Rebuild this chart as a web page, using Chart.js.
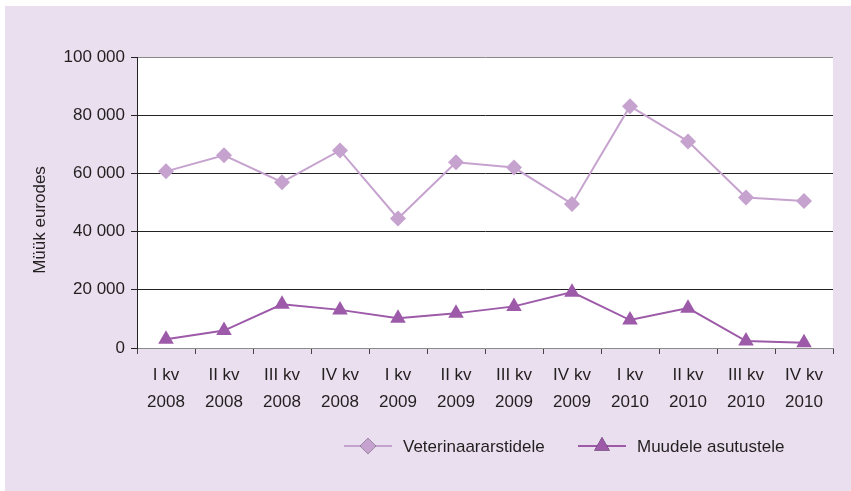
<!DOCTYPE html>
<html>
<head>
<meta charset="utf-8">
<script src="https://cdn.jsdelivr.net/npm/chart.js@4"></script>
<style>
  html, body { margin: 0; background: #fff; overflow: hidden; }
  #wrap { position: absolute; left: 5px; top: 6px; width: 846px; height: 485px; background: #e9dfee; }
  #chart { display: block; }
</style>
</head>
<body>
<div id="wrap"><canvas id="chart" width="846" height="485"></canvas></div>
<script>
// Categories (quarters)
const quarters = [
    ['I kv', '2008'], ['II kv', '2008'], ['III kv', '2008'], ['IV kv', '2008'],
    ['I kv', '2009'], ['II kv', '2009'], ['III kv', '2009'], ['IV kv', '2009'],
    ['I kv', '2010'], ['II kv', '2010'], ['III kv', '2010'], ['IV kv', '2010']
];

// Sales in euros
const vetValues = [60700, 66200, 57000, 67900, 44500, 63800, 62000, 49500, 83100, 71000, 51700, 50500];
const otherValues = [3000, 6000, 15000, 13100, 10200, 11900, 14300, 19200, 9600, 13700, 2400, 1800];

const seriesNames = ['Veterinaararstidele', 'Muudele asutustele'];
const yTitle = 'Müük eurodes';

const textColor = '#231f20';
const fontFamily = "'Liberation Sans', Arial, sans-serif";

// White plot background
const plotBg = {
    id: 'plotBg',
    beforeDraw(chart) {
        const { ctx, chartArea: a } = chart;
        ctx.save();
        ctx.fillStyle = '#fff';
        ctx.fillRect(a.left, a.top, a.right - a.left, a.bottom - a.top);
        ctx.restore();
    }
};

// Y title and legend with line + marker
const extras = {
    id: 'extras',
    afterDraw(chart) {
        const ctx = chart.ctx;
        ctx.save();
        ctx.font = '17px ' + fontFamily;
        ctx.fillStyle = textColor;
        ctx.textAlign = 'center';
        ctx.textBaseline = 'middle';
        ctx.translate(35, 214);
        ctx.rotate(-Math.PI / 2);
        ctx.fillText(yTitle, 0, 0);
        ctx.restore();

        const starts = [339, 573];
        const y = 440;
        chart.data.datasets.forEach((ds, i) => {
            const x0 = starts[i];
            ctx.save();
            ctx.strokeStyle = ds.borderColor;
            ctx.lineWidth = 2;
            ctx.beginPath();
            ctx.moveTo(x0, y);
            ctx.lineTo(x0 + 48, y);
            ctx.stroke();
            Chart.helpers.drawPoint(ctx, {
                pointStyle: ds.pointStyle,
                radius: ds.pointRadius,
                rotation: 0,
                borderWidth: 0
            }, x0 + 24, y);
            ctx.fillStyle = ds.pointBackgroundColor;
            ctx.fill();
            ctx.font = '17px ' + fontFamily;
            ctx.fillStyle = textColor;
            ctx.textAlign = 'left';
            ctx.textBaseline = 'middle';
            ctx.fillText(ds.label, x0 + 59, y + 1);
            ctx.restore();
        });
    }
};

new Chart(document.getElementById('chart'), {
    type: 'line',
    data: {
        labels: quarters,
        datasets: [{
            label: seriesNames[0],
            data: vetValues,
            borderColor: '#c6a2cf',
            backgroundColor: '#c6a2cf',
            pointBackgroundColor: '#c6a2cf',
            pointBorderColor: '#c6a2cf',
            pointStyle: 'rectRot',
            pointRadius: 8,
            pointBorderWidth: 0,
            borderWidth: 2,
            tension: 0
        }, {
            label: seriesNames[1],
            data: otherValues,
            borderColor: '#9c5aa8',
            backgroundColor: '#9c5aa8',
            pointBackgroundColor: '#9c5aa8',
            pointBorderColor: '#9c5aa8',
            pointStyle: 'triangle',
            pointRadius: 9,
            pointBorderWidth: 0,
            borderWidth: 2,
            tension: 0
        }]
    },
    options: {
        responsive: false,
        animation: false,
        layout: { padding: { top: 51, right: 18, left: 0, bottom: 0 } },
        plugins: {
            legend: { display: false },
            tooltip: { enabled: false }
        },
        scales: {
            x: {
                offset: true,
                afterFit(scale) { scale.height = 143; },
                border: { display: true, color: '#8a8a8a', width: 1 },
                grid: {
                    offset: true,
                    drawOnChartArea: true,
                    color: ctx => ctx.index === quarters.length ? '#8a8a8a' : 'rgba(0,0,0,0)',
                    tickColor: '#444',
                    tickLength: 6
                },
                ticks: {
                    color: textColor,
                    padding: 8,
                    maxRotation: 0,
                    autoSkip: false,
                    font: { family: fontFamily, size: 17, lineHeight: 1.6 }
                }
            },
            y: {
                min: 0,
                max: 100000,
                afterFit(scale) { scale.width = 132; },
                border: { display: true, color: '#222', width: 1 },
                grid: {
                    color: ctx => {
                        const v = ctx.tick ? ctx.tick.value : 0;
                        if (v === 100000) return '#8a8a8a';
                        if (v === 0) return 'rgba(0,0,0,0)';
                        return '#222';
                    },
                    tickColor: '#222',
                    tickLength: 6
                },
                ticks: {
                    stepSize: 20000,
                    color: textColor,
                    padding: 6,
                    font: { family: fontFamily, size: 17 },
                    callback: v => v === 0 ? '0' : String(v).replace(/\B(?=(\d{3})+(?!\d))/g, ' ')
                }
            }
        }
    },
    plugins: [plotBg, extras]
});
</script>
</body>
</html>
